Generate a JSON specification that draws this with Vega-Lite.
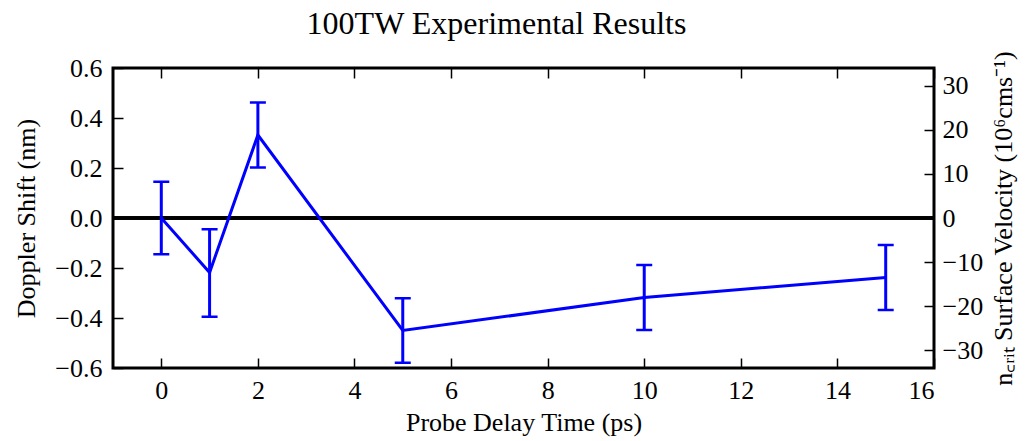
{
  "$schema": "https://vega.github.io/schema/vega-lite/v6.json",
  "autosize": "none",
  "width": 821,
  "height": 300,
  "padding": {"left": 113, "top": 68, "right": 97, "bottom": 73},
  "background": "white",
  "config": {
    "font": "Liberation Serif",
    "view": {"stroke": "black", "strokeWidth": 3},
    "axis": {
      "grid": false,
      "domain": false,
      "labelFont": "Liberation Serif",
      "labelFontSize": 26,
      "labelColor": "black",
      "titleFont": "Liberation Serif",
      "titleFontSize": 26,
      "titleFontWeight": "normal",
      "titleColor": "black",
      "tickColor": "black",
      "tickWidth": 1.5,
      "tickSize": -10
    }
  },
  "title": {
    "text": "100TW Experimental Results",
    "font": "Liberation Serif",
    "fontSize": 32,
    "fontWeight": "normal",
    "color": "black",
    "anchor": "middle",
    "offset": 10,
    "dx": -27
  },
  "data": {
    "values": [
      {"t": 0, "shift": 0.0, "lo": -0.145, "hi": 0.145, "velocity": 0.0},
      {"t": 1, "shift": -0.218, "lo": -0.395, "hi": -0.045, "velocity": -12.4},
      {"t": 2, "shift": 0.332, "lo": 0.202, "hi": 0.462, "velocity": 18.8},
      {"t": 5, "shift": -0.45, "lo": -0.579, "hi": -0.321, "velocity": -25.5},
      {"t": 10, "shift": -0.318, "lo": -0.448, "hi": -0.188, "velocity": -18.0},
      {"t": 15, "shift": -0.238, "lo": -0.368, "hi": -0.108, "velocity": -13.5}
    ]
  },
  "layer": [
    {
      "encoding": {
        "x": {
          "field": "t",
          "type": "quantitative",
          "scale": {"domain": [-1, 16], "nice": false, "zero": false},
          "axis": {
            "orient": "bottom",
            "values": [0, 2, 4, 6, 8, 10, 12, 14, 16],
            "title": "Probe Delay Time (ps)",
            "labelPadding": 19,
            "titlePadding": 6
          }
        }
      },
      "layer": [
        {
          "mark": {"type": "rule", "color": "black", "strokeWidth": 3},
          "encoding": {
            "x": null,
            "y": {"datum": 0, "type": "quantitative"}
          }
        },
        {
          "mark": {"type": "rule", "color": "#0000ff", "strokeWidth": 3},
          "encoding": {
            "y": {"field": "lo", "type": "quantitative"},
            "y2": {"field": "hi"}
          }
        },
        {
          "mark": {"type": "tick", "color": "#0000ff", "orient": "horizontal", "size": 16, "thickness": 2.5, "opacity": 1},
          "encoding": {"y": {"field": "lo", "type": "quantitative"}}
        },
        {
          "mark": {"type": "tick", "color": "#0000ff", "orient": "horizontal", "size": 16, "thickness": 2.5, "opacity": 1},
          "encoding": {"y": {"field": "hi", "type": "quantitative"}}
        },
        {
          "mark": {"type": "line", "color": "#0000ff", "strokeWidth": 3},
          "encoding": {
            "y": {
              "field": "shift",
              "type": "quantitative",
              "scale": {"domain": [-0.6, 0.6], "nice": false, "zero": false},
              "axis": {
                "orient": "left",
                "values": [-0.6, -0.4, -0.2, 0, 0.2, 0.4, 0.6],
                "format": ".1f",
                "title": "Doppler Shift (nm)",
                "labelPadding": 21,
                "titlePadding": 15
              }
            }
          }
        }
      ]
    },
    {
      "mark": {"type": "point", "opacity": 0},
      "encoding": {
        "x": {
          "field": "t",
          "type": "quantitative",
          "axis": {
            "orient": "top",
            "values": [0, 2, 4, 6, 8, 10, 12, 14, 16],
            "labels": false,
            "title": null
          }
        },
        "y": {
          "field": "velocity",
          "type": "quantitative",
          "scale": {"domain": [-34, 34], "nice": false, "zero": false},
          "axis": {
            "orient": "right",
            "values": [-30, -20, -10, 0, 10, 20, 30],
            "title": "n꜀ᵣᵢₜ Surface Velocity (10⁶cms⁻¹)",
            "titleAngle": 270,
            "labelPadding": 18,
            "titlePadding": 34
          }
        }
      }
    }
  ],
  "resolve": {"scale": {"y": "independent"}, "axis": {"x": "independent"}}
}
